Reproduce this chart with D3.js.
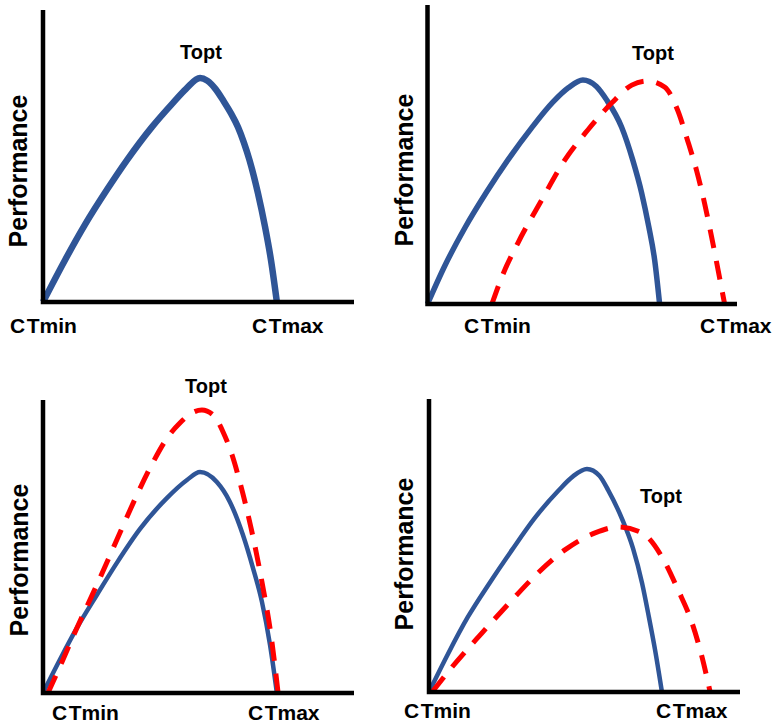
<!DOCTYPE html>
<html>
<head>
<meta charset="utf-8">
<script src="https://cdn.jsdelivr.net/npm/d3@7"></script>
<style>
  body { margin: 0; background: #fff; }
  text { font-family: "Liberation Sans", Arial, sans-serif; font-weight: bold; fill: #000; }
</style>
</head>
<body>
<svg id="chart" width="774" height="723"></svg>
<script>
// values: temperature 0-100 along the x axis, performance 0-100 up the y axis

// panel 1 - single curve
const temp1Blue = [0, 7.1, 13.5, 20.6, 27.0, 35.0, 41.8, 46.0, 50.5, 52.8, 55.5, 58.0, 60.5, 62.7, 64.6, 66.4, 69.1, 71.4, 73.3, 75.2]
const perf1Blue = [0, 14.4, 26.5, 38.5, 48.6, 59.9, 68.2, 73.0, 76.7, 75.8, 72.9, 68.9, 64.5, 59.9, 54.6, 48.6, 37.3, 25.7, 14.4, 0]

// panel 2 - curve shifted to warmer temperatures
const temp2Blue = [0, 5.6, 12.1, 19.2, 26.0, 33.7, 40.5, 45.5, 50.2, 54.5, 57.9, 62.7, 66.3, 69.2, 71.5, 73.4, 75.0]
const perf2Blue = [0, 12.8, 25.5, 37.6, 48.2, 59.0, 67.5, 72.3, 74.9, 72.8, 68.2, 59.2, 48.2, 37.1, 25.8, 14.7, 0]
const temp2Red = [20.8, 24.0, 29.2, 36.9, 44.4, 51.8, 59.5, 66.0, 71.1, 76.6, 80.8, 84.0, 86.9, 89.5, 91.8, 93.4, 96.0]
const perf2Red = [0, 9.0, 20.4, 34.8, 48.2, 58.2, 67.2, 73.2, 74.6, 72.6, 64.9, 54.8, 44.8, 33.8, 22.4, 14.0, 0]

// panel 3 - same limits, higher peak
const temp3Blue = [0, 5.5, 10.9, 17.4, 23.8, 31.2, 39.9, 46.3, 50.5, 55.9, 60.1, 64.3, 67.5, 70.4, 73.0, 75.2]
const perf3Blue = [0, 11.5, 22.2, 33.6, 44.5, 56.0, 66.6, 72.7, 75.4, 72.0, 65.2, 53.9, 42.7, 31.1, 16.4, 0]
const temp3Red = [1.6, 6.1, 10.9, 15.8, 20.6, 25.4, 30.2, 35.4, 39.9, 44.1, 47.9, 51.1, 54.7, 57.9, 60.8, 63.3, 66.9, 70.4, 73.3, 75.6]
const perf3Red = [0, 10.6, 22.2, 33.4, 44.7, 56.3, 67.6, 78.8, 87.0, 92.2, 95.6, 96.6, 94.9, 89.1, 81.2, 72.0, 56.3, 37.9, 19.8, 0]

// panel 4 - broader, flatter curve
const temp4Blue = [0, 6.1, 12.5, 19.6, 26.7, 34.1, 41.5, 46.3, 50.8, 54.8, 57.6, 62.1, 65.6, 68.5, 70.7, 72.7, 74.9]
const perf4Blue = [0, 13.0, 25.6, 37.4, 48.5, 59.5, 68.6, 73.6, 76.1, 73.8, 68.9, 59.0, 49.0, 37.2, 25.6, 14.3, 0]
const temp4Red = [1.0, 7.4, 17.0, 26.7, 35.0, 43.7, 53.4, 60.8, 68.5, 74.9, 80.1, 84.6, 87.8, 90.4]
const perf4Red = [0, 8.5, 20.1, 31.4, 40.6, 48.5, 54.3, 56.3, 54.3, 46.1, 34.8, 23.5, 11.9, 0]

// label text
const yLabel = 'Performance'
const peakLabel = 'Topt'
const lowLabel = ['C', 'Tmin']
const highLabel = ['C', 'Tmax']

const blue = '#2f5597'
const red = '#ff0000'

// frames of the four panels and where their labels sit
const panels = [
    { left: 43, right: 354, top: 10, bottom: 302, blueW: 6.5,
      curves: [[temp1Blue, perf1Blue, 'blue']],
      ylab: [27, 171], topt: [201, 59], ctmin: [10, 333], ctmax: [252, 333] },
    { left: 427.5, right: 737, top: 5, bottom: 304, blueW: 5.5,
      curves: [[temp2Blue, perf2Blue, 'blue'], [temp2Red, perf2Red, 'red']],
      ylab: [413, 170], topt: [653, 60], ctmin: [464, 333], ctmax: [700, 333] },
    { left: 43, right: 354, top: 400, bottom: 693, blueW: 4.5,
      curves: [[temp3Blue, perf3Blue, 'blue'], [temp3Red, perf3Red, 'red']],
      ylab: [28, 560], topt: [206, 393], ctmin: [52, 720], ctmax: [248, 720] },
    { left: 429, right: 740, top: 399, bottom: 692, blueW: 4.5,
      curves: [[temp4Blue, perf4Blue, 'blue'], [temp4Red, perf4Red, 'red']],
      ylab: [413, 554], topt: [661, 503], ctmin: [404, 718], ctmax: [656, 718] }
]

const svg = d3.select('#chart')

function splitLabel(g, pos, parts) {
    const t = g.append('text').attr('x', pos[0]).attr('y', pos[1]).style('font-size', '21px')
    t.append('tspan').text(parts[0])
    t.append('tspan').attr('dx', 1.5).text(parts[1])
}

panels.forEach(p => {
    const x = d3.scaleLinear().domain([0, 100]).range([p.left, p.right])
    const y = d3.scaleLinear().domain([0, 100]).range([p.bottom, p.top])
    const g = svg.append('g')

    const line = d3.line()
        .x(d => x(d[0]))
        .y(d => y(d[1]))
        .curve(d3.curveMonotoneX)

    p.curves.forEach(([t, v, col]) => {
        const pts = t.map((d, i) => [d, v[i]])
        const path = g.append('path').datum(pts)
            .attr('d', line)
            .style('fill', 'none')
        if (col == 'blue') {
            path.style('stroke', blue).style('stroke-width', p.blueW)
        } else {
            path.style('stroke', red).style('stroke-width', 5).style('stroke-dasharray', '19,13')
        }
    })

    // the two axes, drawn as one L shape
    g.append('path')
        .attr('d', d3.line()([[x(0), y(100)], [x(0), y(0)], [x(100), y(0)]]))
        .style('fill', 'none').style('stroke', '#000').style('stroke-width', 4.5)
        .style('stroke-linejoin', 'miter')

    g.append('text')
        .attr('transform', `translate(${p.ylab[0]},${p.ylab[1]}) rotate(-90)`)
        .attr('text-anchor', 'middle')
        .style('font-size', '25px')
        .text(yLabel)

    g.append('text').attr('x', p.topt[0]).attr('y', p.topt[1])
        .attr('text-anchor', 'middle').style('font-size', '20px').text(peakLabel)
    splitLabel(g, p.ctmin, lowLabel)
    splitLabel(g, p.ctmax, highLabel)
})
</script>
</body>
</html>
